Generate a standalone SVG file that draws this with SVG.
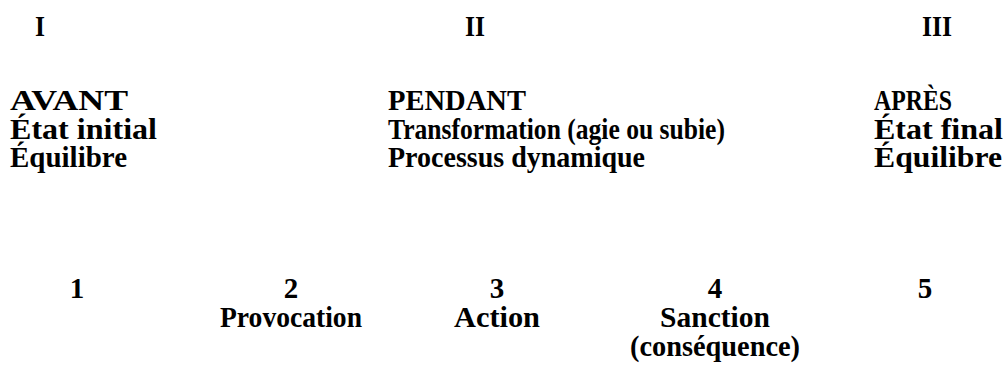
<svg xmlns="http://www.w3.org/2000/svg" width="1006" height="379" viewBox="0 0 1006 379">
  <style>
    text { font-family: "Liberation Serif", "Times New Roman", serif; font-weight: bold; font-size: 29px; fill: #000; }
    .c { text-anchor: middle; }
  </style>
  <rect width="1006" height="379" fill="#fff"/>
  <!-- phase numerals -->
  <g id="phases">
    <text class="c" x="40" y="36" textLength="10" lengthAdjust="spacingAndGlyphs">I</text>
    <text class="c" x="475" y="36" textLength="20" lengthAdjust="spacingAndGlyphs">II</text>
    <text class="c" x="937" y="36" textLength="30" lengthAdjust="spacingAndGlyphs">III</text>
  </g>
  <!-- before -->
  <g id="avant">
    <text x="10" y="110" textLength="118" lengthAdjust="spacingAndGlyphs">AVANT</text>
    <text x="10" y="138.5" textLength="147" lengthAdjust="spacingAndGlyphs">État initial</text>
    <text x="10" y="167" textLength="117" lengthAdjust="spacingAndGlyphs">Équilibre</text>
  </g>
  <!-- during -->
  <g id="pendant">
    <text x="388" y="110" textLength="138" lengthAdjust="spacingAndGlyphs">PENDANT</text>
    <text x="388" y="138.5" textLength="337" lengthAdjust="spacingAndGlyphs">Transformation (agie ou subie)</text>
    <text x="388" y="167" textLength="257" lengthAdjust="spacingAndGlyphs">Processus dynamique</text>
  </g>
  <!-- after -->
  <g id="apres">
    <text x="874" y="110" textLength="78" lengthAdjust="spacingAndGlyphs">APRÈS</text>
    <text x="874" y="138.5" textLength="129" lengthAdjust="spacingAndGlyphs">État final</text>
    <text x="874" y="167" textLength="128" lengthAdjust="spacingAndGlyphs">Équilibre</text>
  </g>
  <!-- stages -->
  <g id="stage1"><text class="c" x="77" y="298">1</text></g>
  <g id="stage2">
    <text class="c" x="291" y="298">2</text>
    <text class="c" x="291" y="327" textLength="142" lengthAdjust="spacingAndGlyphs">Provocation</text>
  </g>
  <g id="stage3">
    <text class="c" x="497" y="298">3</text>
    <text class="c" x="497" y="327" textLength="86" lengthAdjust="spacingAndGlyphs">Action</text>
  </g>
  <g id="stage4">
    <text class="c" x="715" y="298">4</text>
    <text class="c" x="715" y="327" textLength="110" lengthAdjust="spacingAndGlyphs">Sanction</text>
    <text class="c" x="715" y="356" textLength="170" lengthAdjust="spacingAndGlyphs">(conséquence)</text>
  </g>
  <g id="stage5"><text class="c" x="925" y="298">5</text></g>
</svg>
